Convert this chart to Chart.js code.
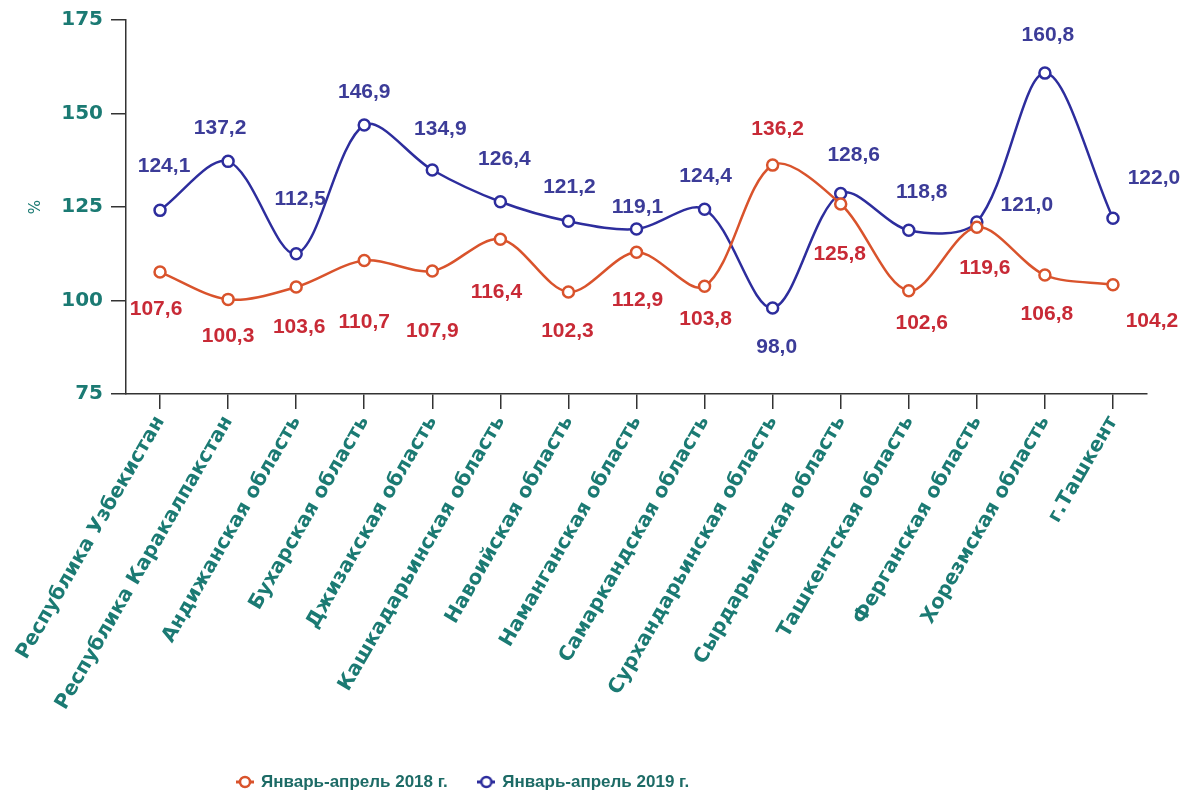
<!DOCTYPE html>
<html><head><meta charset="utf-8">
<script src="https://cdn.jsdelivr.net/npm/chart.js@4.4.1/dist/chart.umd.min.js"></script>
<style>html,body{margin:0;padding:0;background:#fff;overflow:hidden}</style>
</head><body>
<canvas id="c" width="1184" height="798"></canvas>
<script>
const categories = ['Республика Узбекистан','Республика Каракалпакстан','Андижанская область','Бухарская область','Джизакская область','Кашкадарьинская область','Навоийская область','Наманганская область','Самаркандская область','Сурхандарьинская область','Сырдарьинская область','Ташкентская область','Ферганская область','Хорезмская область','г.Ташкент'];
const values2018 = [107.6,100.3,103.6,110.7,107.9,116.4,102.3,112.9,103.8,136.2,125.8,102.6,119.6,106.8,104.2];
const values2019 = [124.1,137.2,112.5,146.9,134.9,126.4,121.2,119.1,124.4,98.0,128.6,118.8,121.0,160.8,122.0];
const seriesNames = ['Январь-апрель 2018 г.','Январь-апрель 2019 г.'];
const yTicks = [75,100,125,150,175];
const yAxisTitle = '%';
// label placement offsets relative to each point (style only)
const labelOffsets2018 = [[-4,37],[0,37],[3,40],[0,62],[0,60],[-4,53],[-1,39],[1,48],[1,33],[5,-36],[-1,50],[13,32],[8,41],[2,39],[39,36]];
const labelOffsets2019 = [[4,-44],[-8,-33],[4,-55],[0,-33],[8,-41],[4,-43],[1,-34],[1,-22],[1,-33],[4,39],[13,-38],[13,-38],[50,-17],[3,-38],[41,-40]];

const TEAL = '#1b7a73';
const RED_LINE = '#d9532c', RED_TEXT = '#c82a36';
const BLUE_LINE = '#2d2d9d', BLUE_TEXT = '#3c3c98';
const AXIS = '#333333';
const W = 1184, H = 798, AXIS_LEFT = 126, AXIS_BOTTOM = 394;

function legendMarker(color){
  const c = document.createElement('canvas'); c.width = 18; c.height = 14;
  const g = c.getContext('2d');
  g.strokeStyle = color; g.lineWidth = 3;
  g.beginPath(); g.moveTo(0,7); g.lineTo(18,7); g.stroke();
  g.lineWidth = 2.5;
  g.beginPath(); g.arc(9,7,5,0,Math.PI*2); g.fillStyle='#fff'; g.fill(); g.stroke();
  return c;
}
const markers = [legendMarker(RED_LINE), legendMarker(BLUE_LINE)];

const fmt = v => v.toFixed(1).replace('.', ',');

const labelPlugin = {
  id: 'valueLabels',
  afterDatasetsDraw(chart){
    const ctx = chart.ctx;
    const offs = [labelOffsets2018, labelOffsets2019];
    const cols = [RED_TEXT, BLUE_TEXT];
    ctx.save();
    ctx.font = 'bold 21px "Liberation Sans", Arial, sans-serif';
    ctx.textAlign = 'center'; ctx.textBaseline = 'middle';
    chart.data.datasets.forEach((ds, di) => {
      const meta = chart.getDatasetMeta(di);
      meta.data.forEach((pt, i) => {
        ctx.fillStyle = cols[di];
        ctx.fillText(fmt(ds.data[i]), pt.x + offs[di][i][0], pt.y + offs[di][i][1]);
      });
    });
    ctx.restore();
  }
};

const legendPlace = {
  id: 'legendPlace',
  afterLayout(chart){
    const lg = chart.legend; if (!lg) return;
    const pad = lg.options.labels.padding;
    lg.left = 237.5 - pad;
    lg.top = 782 - pad - 8.5;
  }
};

new Chart(document.getElementById('c'), {
  type: 'line',
  data: {
    labels: categories,
    datasets: [
      { label: seriesNames[0], data: values2018, borderColor: RED_LINE, backgroundColor: '#fff',
        borderWidth: 2.5, tension: 0.32, pointRadius: 5.5, pointBorderWidth: 2.5,
        pointBackgroundColor: '#fff', pointBorderColor: RED_LINE, pointStyle: 'circle' },
      { label: seriesNames[1], data: values2019, borderColor: BLUE_LINE, backgroundColor: '#fff',
        borderWidth: 2.5, tension: 0.32, pointRadius: 5.5, pointBorderWidth: 2.5,
        pointBackgroundColor: '#fff', pointBorderColor: BLUE_LINE, pointStyle: 'circle' }
    ]
  },
  options: {
    responsive: false, animation: false, devicePixelRatio: 1,
    layout: { padding: { top: 18, right: 37, left: 0, bottom: 0 } },
    plugins: {
      legend: {
        position: 'bottom', align: 'start',
        labels: {
          usePointStyle: true, pointStyleWidth: 15, padding: 31,
          color: '#1d6b66',
          font: { family: '"Liberation Sans", Arial, sans-serif', size: 17, weight: 'bold' },
          generateLabels(chart){
            return chart.data.datasets.map((ds, i) => ({
              text: ds.label, datasetIndex: i, pointStyle: markers[i],
              fillStyle: '#fff', strokeStyle: ds.borderColor, lineWidth: 0, hidden: false, fontColor: '#1d6b66'
            }));
          }
        }
      },
      tooltip: { enabled: false }
    },
    scales: {
      x: {
        offset: true,
        grid: { offset: false, drawOnChartArea: false, drawTicks: true, tickLength: 15, color: AXIS, lineWidth: 1.5 },
        border: { display: true, color: AXIS, width: 1.5 },
        ticks: { autoSkip: false, minRotation: 60, maxRotation: 60, padding: 3, color: TEAL,
          font: { family: '"DejaVu Sans", sans-serif', size: 20, weight: 'bold' } },
        afterFit(s){ const lh = s.chart.legend ? s.chart.legend.height : 0; s.height = H - AXIS_BOTTOM - lh; }
      },
      y: {
        min: 75, max: 175,
        afterBuildTicks(s){ s.ticks = yTicks.map(v => ({ value: v })); },
        grid: { drawOnChartArea: false, drawTicks: true, tickLength: 15, color: AXIS, lineWidth: 1.5 },
        border: { display: true, color: AXIS, width: 1.5 },
        ticks: { padding: 8, color: TEAL, font: { family: '"DejaVu Sans", sans-serif', size: 20, weight: 'bold' } },
        title: { display: true, text: yAxisTitle, color: TEAL, padding: { top: 27, bottom: 0 },
          font: { family: '"DejaVu Sans", sans-serif', size: 15 } },
        afterFit(s){ s.width = AXIS_LEFT; }
      }
    }
  },
  plugins: [labelPlugin, legendPlace]
});
</script>
</body></html>
